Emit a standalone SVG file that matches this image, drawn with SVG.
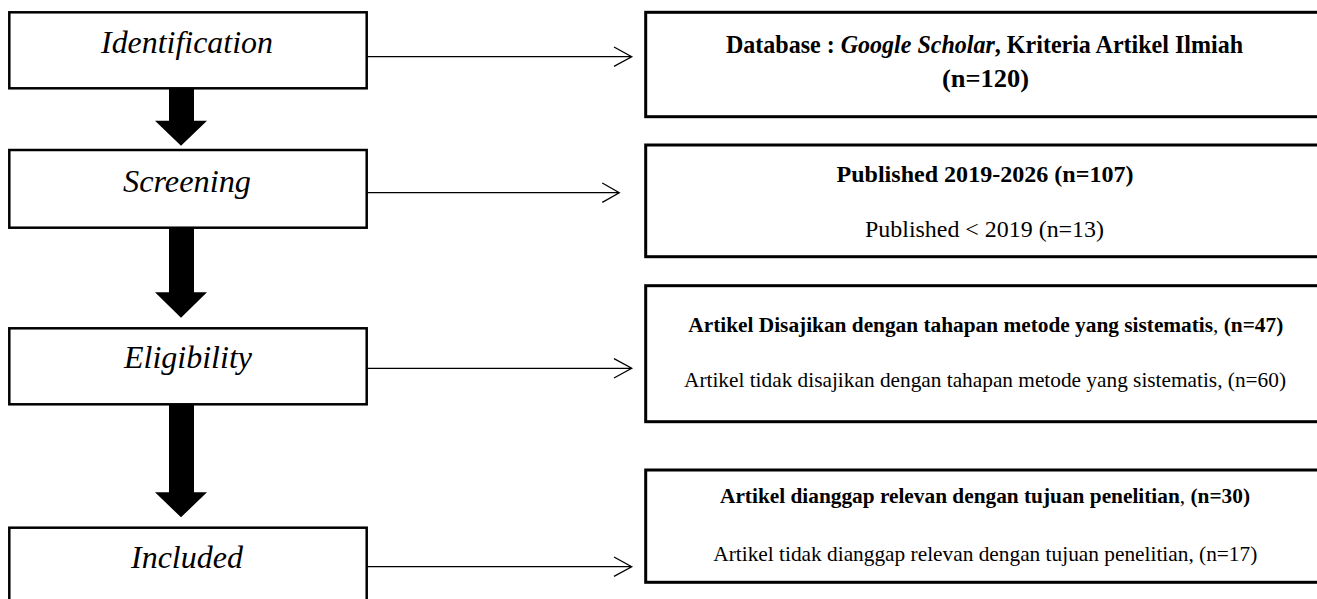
<svg xmlns="http://www.w3.org/2000/svg" width="1317" height="599" viewBox="0 0 1317 599">
<style>
.stage{fill:#fff;stroke:#000;stroke-width:2.5}
.out{fill:#fff;stroke:#000;stroke-width:3}
text{font-family:'Liberation Serif','Times New Roman',Times,serif;fill:#000}
.lbl{font-style:italic;font-size:31px}
.b{font-weight:bold}
.thin{fill:none;stroke:#000;stroke-width:1.3}
.thick{fill:#000;stroke:none}
</style>
<rect width="1317" height="599" fill="#fff"/>
<g id="connectors">
  <polygon class="thick" points="169,88 194,88 194,120.7 207,120.7 181,145.7 155,120.7 169,120.7"/>
  <polygon class="thick" points="169,227.7 194,227.7 194,292.3 207,292.3 181,317.7 155,292.3 169,292.3"/>
  <polygon class="thick" points="169,404.3 194,404.3 194,492.3 207,492.3 181,517.3 155,492.3 169,492.3"/>
  <path class="thin" d="M366.7,56.7 H631.7 M614,47 L631.7,56.7 L614,66.4"/>
  <path class="thin" d="M366.7,192.7 H619.3 M602.3,183 L619.3,192.7 L602.3,202.4"/>
  <path class="thin" d="M366.7,368.3 H631.7 M614,358.6 L631.7,368.3 L614,378"/>
  <path class="thin" d="M366.7,566.7 H631.7 M614,557 L631.7,566.7 L614,576.4"/>
</g>
<g id="identification">
  <rect class="stage" x="9.3" y="12.3" width="357.4" height="76"/>
  <text class="lbl" x="101" y="53" textLength="172" lengthAdjust="spacingAndGlyphs">Identification</text>
</g>
<g id="screening">
  <rect class="stage" x="9.3" y="150" width="357.4" height="77.7"/>
  <text class="lbl" x="123" y="192" textLength="128" lengthAdjust="spacingAndGlyphs">Screening</text>
</g>
<g id="eligibility">
  <rect class="stage" x="9.3" y="328.3" width="357.4" height="76"/>
  <text class="lbl" x="124" y="368" textLength="128" lengthAdjust="spacingAndGlyphs">Eligibility</text>
</g>
<g id="included">
  <rect class="stage" x="9.3" y="527.7" width="357.4" height="90"/>
  <text class="lbl" x="131" y="568" textLength="112" lengthAdjust="spacingAndGlyphs">Included</text>
</g>
<g id="database">
  <rect class="out" x="645.7" y="12.3" width="690" height="104.4"/>
  <text class="b" x="726" y="53.3" font-size="24.5" textLength="517" lengthAdjust="spacingAndGlyphs">Database : <tspan font-style="italic">Google Scholar</tspan>, Kriteria Artikel Ilmiah</text>
  <text class="b" x="942" y="87" font-size="24.5" textLength="87" lengthAdjust="spacingAndGlyphs">(n=120)</text>
</g>
<g id="published">
  <rect class="out" x="645.7" y="145" width="690" height="111.7"/>
  <text class="b" x="836.5" y="181.7" font-size="24" textLength="297" lengthAdjust="spacingAndGlyphs">Published 2019-2026 (n=107)</text>
  <text x="865" y="236.7" font-size="23.5" textLength="239" lengthAdjust="spacingAndGlyphs">Published &lt; 2019 (n=13)</text>
</g>
<g id="disajikan">
  <rect class="out" x="645.7" y="285.7" width="690" height="136"/>
  <text class="b" x="688.3" y="332.3" font-size="20.5" textLength="595" lengthAdjust="spacingAndGlyphs">Artikel Disajikan dengan tahapan metode yang sistematis<tspan font-weight="normal">,</tspan> (n=47)</text>
  <text x="684" y="387.3" font-size="21" textLength="602" lengthAdjust="spacingAndGlyphs">Artikel tidak disajikan dengan tahapan metode yang sistematis, (n=60)</text>
</g>
<g id="relevan">
  <rect class="out" x="645.7" y="470" width="690" height="112.3"/>
  <text class="b" x="720" y="503" font-size="21" textLength="530" lengthAdjust="spacingAndGlyphs">Artikel dianggap relevan dengan tujuan penelitian<tspan font-weight="normal">,</tspan> (n=30)</text>
  <text x="713.3" y="560.7" font-size="21" textLength="544" lengthAdjust="spacingAndGlyphs">Artikel tidak dianggap relevan dengan tujuan penelitian, (n=17)</text>
</g>
</svg>
